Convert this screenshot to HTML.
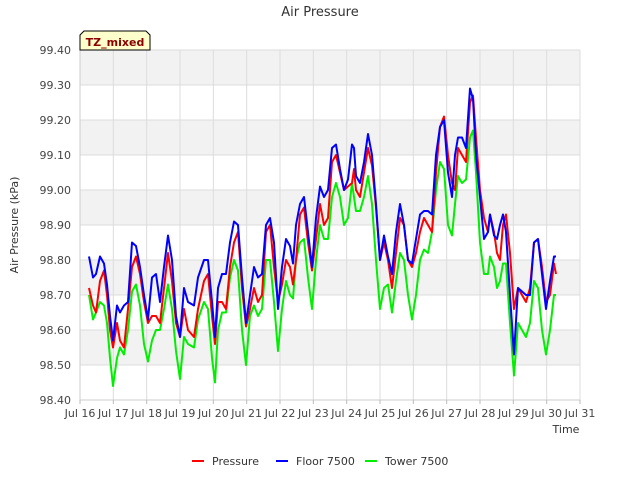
<!DOCTYPE html>
<html><head><meta charset="utf-8"><style>
body{margin:0;background:#fff;}
svg text{font-family:"DejaVu Sans","Liberation Sans",sans-serif;}
</style></head><body>
<svg id="chart" width="640" height="480" xmlns="http://www.w3.org/2000/svg">
<text x="320" y="16" text-anchor="middle" font-size="13" fill="#333">Air Pressure</text>
<g id="bands"></g>
<g id="grid"></g>
<g id="yticks"></g>
<g id="xticks"></g>
<g id="series"></g>
<text transform="translate(18,225) rotate(-90)" text-anchor="middle" font-size="11" fill="#333">Air Pressure (kPa)</text>
<text x="566" y="433" text-anchor="middle" font-size="11" fill="#333">Time</text>
<g>
<path d="M80,50 L80,35 L84,31 L146,31 L150,35 L150,50 Z" fill="#ffffcc" stroke="#000" stroke-width="1"/>
<text x="115" y="46" text-anchor="middle" font-size="11" font-weight="bold" fill="#8b0000">TZ_mixed</text>
</g>
<g>
<g><line x1="192" y1="461" x2="204" y2="461" stroke="#ff0000" stroke-width="2"/><text x="212" y="465" font-size="11" fill="#333">Pressure</text></g>
<g><line x1="276" y1="461" x2="288" y2="461" stroke="#0000ff" stroke-width="2"/><text x="296" y="465" font-size="11" fill="#333">Floor 7500</text></g>
<g><line x1="365" y1="461" x2="377" y2="461" stroke="#00ee00" stroke-width="2"/><text x="385" y="465" font-size="11" fill="#333">Tower 7500</text></g>
</g>
</svg>
<script>
const times=[16.27,16.39,16.48,16.60,16.72,16.81,16.90,16.99,17.11,17.20,17.32,17.44,17.56,17.68,17.80,17.92,18.04,18.16,18.28,18.40,18.52,18.64,18.76,18.88,19.00,19.12,19.24,19.42,19.54,19.72,19.84,19.96,20.05,20.14,20.26,20.38,20.50,20.62,20.74,20.86,20.98,21.10,21.22,21.34,21.46,21.58,21.70,21.82,21.94,22.06,22.18,22.30,22.39,22.48,22.60,22.72,22.84,22.96,23.08,23.20,23.32,23.44,23.56,23.68,23.80,23.92,24.04,24.16,24.22,24.28,24.40,24.52,24.64,24.76,24.88,25.00,25.12,25.24,25.36,25.48,25.60,25.72,25.84,25.96,26.08,26.20,26.32,26.44,26.56,26.68,26.80,26.92,27.04,27.16,27.25,27.34,27.46,27.58,27.70,27.79,27.88,28.00,28.12,28.24,28.30,28.42,28.51,28.60,28.69,28.78,28.90,29.02,29.14,29.26,29.38,29.50,29.62,29.74,29.86,29.98,30.10,30.22,30.28];
const pressure=[98.72,98.67,98.65,98.74,98.77,98.70,98.60,98.55,98.62,98.57,98.55,98.66,98.78,98.81,98.76,98.68,98.62,98.64,98.64,98.62,98.72,98.82,98.74,98.62,98.58,98.66,98.60,98.58,98.66,98.74,98.76,98.64,98.56,98.68,98.68,98.66,98.78,98.85,98.88,98.72,98.61,98.66,98.72,98.68,98.70,98.88,98.90,98.78,98.68,98.73,98.80,98.78,98.73,98.80,98.93,98.95,98.85,98.77,98.86,98.96,98.90,98.92,99.08,99.10,99.05,99.00,99.01,99.02,99.06,99.00,98.98,99.05,99.12,99.07,98.95,98.80,98.85,98.80,98.72,98.82,98.92,98.90,98.80,98.78,98.82,98.88,98.92,98.90,98.88,99.05,99.18,99.21,99.10,99.02,99.00,99.12,99.10,99.08,99.25,99.27,99.15,99.00,98.92,98.88,98.93,98.88,98.82,98.80,98.90,98.93,98.82,98.66,98.72,98.70,98.68,98.72,98.85,98.86,98.78,98.68,98.70,98.79,98.76];
const floor7500=[98.81,98.75,98.76,98.81,98.79,98.73,98.64,98.57,98.67,98.65,98.67,98.68,98.85,98.84,98.78,98.70,98.63,98.75,98.76,98.68,98.78,98.87,98.80,98.64,98.58,98.72,98.68,98.67,98.75,98.80,98.80,98.68,98.58,98.72,98.76,98.76,98.85,98.91,98.90,98.75,98.62,98.70,98.78,98.75,98.76,98.90,98.92,98.85,98.66,98.78,98.86,98.84,98.79,98.90,98.96,98.98,98.88,98.78,98.92,99.01,98.98,99.00,99.12,99.13,99.06,99.00,99.03,99.13,99.12,99.04,99.02,99.08,99.16,99.10,98.96,98.80,98.87,98.81,98.76,98.88,98.96,98.90,98.80,98.79,98.86,98.93,98.94,98.94,98.93,99.10,99.18,99.20,99.05,98.98,99.10,99.15,99.15,99.12,99.29,99.26,99.10,98.98,98.86,98.88,98.93,98.87,98.86,98.90,98.93,98.88,98.70,98.53,98.72,98.71,98.70,98.70,98.85,98.86,98.76,98.66,98.74,98.81,98.81];
const tower7500=[98.70,98.63,98.65,98.68,98.67,98.62,98.52,98.44,98.52,98.55,98.53,98.60,98.71,98.73,98.67,98.56,98.51,98.57,98.60,98.60,98.66,98.73,98.66,98.54,98.46,98.58,98.56,98.55,98.63,98.68,98.66,98.52,98.45,98.60,98.65,98.65,98.75,98.80,98.77,98.60,98.50,98.64,98.67,98.64,98.66,98.80,98.80,98.68,98.54,98.66,98.74,98.70,98.69,98.80,98.85,98.86,98.75,98.66,98.80,98.90,98.86,98.86,98.98,99.02,98.98,98.90,98.92,99.02,98.98,98.94,98.94,98.98,99.04,98.96,98.80,98.66,98.72,98.73,98.65,98.74,98.82,98.80,98.70,98.63,98.70,98.80,98.83,98.82,98.88,99.00,99.08,99.06,98.90,98.87,98.96,99.04,99.02,99.03,99.15,99.17,99.05,98.85,98.76,98.76,98.81,98.78,98.72,98.74,98.79,98.79,98.62,98.47,98.62,98.60,98.58,98.62,98.74,98.72,98.60,98.53,98.60,98.70,98.70];
const yTicks=[98.40,98.50,98.60,98.70,98.80,98.90,99.00,99.10,99.20,99.30,99.40];
const xTickDays=[16,17,18,19,20,21,22,23,24,25,26,27,28,29,30,31];
const xTickLabels=["Jul 16","Jul 17","Jul 18","Jul 19","Jul 20","Jul 21","Jul 22","Jul 23","Jul 24","Jul 25","Jul 26","Jul 27","Jul 28","Jul 29","Jul 30","Jul 31"];

const L=80,R=580,T=50,B=400,yMin=98.40,yMax=99.40,xMin=16,xMax=31;
const X=d=>L+(d-xMin)/(xMax-xMin)*(R-L);
const Y=v=>B-(v-yMin)/(yMax-yMin)*(B-T);
const NS="http://www.w3.org/2000/svg";
function mk(tag,attrs,parent){const e=document.createElementNS(NS,tag);for(const k in attrs)e.setAttribute(k,attrs[k]);parent.appendChild(e);return e;}
const bands=document.getElementById('bands'),grid=document.getElementById('grid'),yt=document.getElementById('yticks'),xt=document.getElementById('xticks'),ser=document.getElementById('series');
const bg=mk('rect',{x:L,y:T,width:R-L,height:B-T,fill:'#fff'},bands);
for(let i=0;i<yTicks.length-1;i++){
  if((yTicks.length-2-i)%2===0){
    const b=mk('rect',{x:L,y:Y(yTicks[i+1]),width:R-L,height:Y(yTicks[i])-Y(yTicks[i+1]),fill:'#f2f2f2'},bands);
    
    
  }
}
yTicks.forEach(v=>{
  const l=mk('line',{x1:L,x2:R,y1:Y(v),y2:Y(v),stroke:'#dcdcdc','stroke-width':1},grid);
  
  
  const t=mk('text',{x:L-9,y:Y(v)+4,'text-anchor':'end','font-size':'11',fill:'#444'},yt);
  t.textContent=v.toFixed(2);
  
  
});
xTickDays.forEach((d,i)=>{
  const l=mk('line',{x1:X(d),x2:X(d),y1:T,y2:B,stroke:'#dcdcdc','stroke-width':1},grid);
  
  
  const tk=mk('line',{x1:X(d),x2:X(d),y1:B,y2:B+4,stroke:'#bbb'},xt);
  
  
  const t=mk('text',{x:X(d),y:B+17,'text-anchor':'middle','font-size':'11',fill:'#444'},xt);
  t.textContent=xTickLabels[i];
  
  
});
const ax=mk('path',{d:`M${L},${T}V${B}H${R}`,fill:'none',stroke:'#ccc'},grid);


function line(vals,color,name){
  const d=vals.map((v,i)=>(i?'L':'M')+X(times[i]).toFixed(1)+','+Y(v).toFixed(1)).join('');
  const p=mk('path',{d:d,fill:'none',stroke:color,'stroke-width':2,'stroke-linejoin':'round'},ser);
  
  
}
line(tower7500,'#00ee00','tower-7500-line');
line(pressure,'#ff0000','pressure-line');
line(floor7500,'#0000ff','floor-7500-line');
</script>
</body></html>
